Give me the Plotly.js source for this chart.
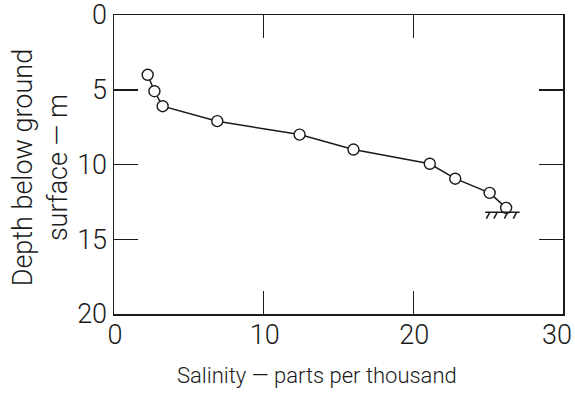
<!DOCTYPE html>
<html>
<head>
<meta charset="utf-8">
<script src="https://cdn.plot.ly/plotly-3.0.1.min.js"></script>
<style>html,body{margin:0;padding:0;background:#fff;}#chart{width:575px;height:408px;}</style>
</head>
<body>
<div id="chart"></div>
<script>
// Salinity (parts per thousand) vs depth below ground surface (m)
var salinity = [2.25, 2.7, 3.25, 6.9, 12.4, 16.0, 21.1, 22.8, 25.1, 26.2];
var depth    = [4.0, 5.1, 6.1, 7.1, 8.0, 9.0, 9.95, 10.95, 11.9, 12.9];

// ground-surface (hatched) symbol under the last sample
var groundX = [24.8, 27.1];
var groundDepth = 13.2;
var hatchX = [25.1, 25.6, 26.3, 26.9];
var hatchDx = 0.22, hatchDy = 0.42;

var xTicks = [0, 10, 20, 30];
var xTickLabels = ['0', '10', '20', ''];
var xEdgeTick = [30];
var xEdgeLabel = ['30'];
var yTicks = [0, 5, 10, 15, 20];
var yTickLabels = ['0', '5', '10', '15', '20'];

var hx = [groundX[0], groundX[1], null], hy = [groundDepth, groundDepth, null];
hatchX.forEach(function (x) {
  hx.push(x, x - hatchDx, null);
  hy.push(groundDepth, groundDepth + hatchDy, null);
});

var FONT = 'Roboto, Lato, sans-serif';
var INK = '#1a1a1a';

var traces = [
  { x: hx, y: hy, xaxis: 'x2', yaxis: 'y', mode: 'lines', line: {color: INK, width: 1.5}, hoverinfo: 'skip', showlegend: false },
  { x: salinity, y: depth, mode: 'lines', line: {color: INK, width: 1.5}, showlegend: false },
  { x: salinity, y: depth, mode: 'markers', showlegend: false,
    marker: {symbol: 'circle', size: 11, color: '#ffffff', line: {color: INK, width: 1.4}} }
];

var tf = {size: 27, family: FONT, color: INK, weight: 300};

var layout = {
  width: 575, height: 408,
  margin: {l: 114, r: 12, t: 15, b: 94},
  paper_bgcolor: '#ffffff', plot_bgcolor: '#ffffff',
  font: {family: FONT, color: INK},
  xaxis: {
    range: [0, 30], tickvals: xTicks, ticktext: xTickLabels,
    ticks: 'inside', ticklen: 23, tickwidth: 1.5, tickcolor: INK,
    showline: true, linecolor: INK, linewidth: 1.5, mirror: 'ticks',
    showgrid: false, zeroline: false, ticklabeloverflow: 'allow',
    tickfont: tf, ticklabelstandoff: -4, ticklabelshift: 1
  },
  xaxis2: {
    overlaying: 'x', anchor: 'y', side: 'bottom', range: [0, 30],
    tickvals: xEdgeTick, ticktext: xEdgeLabel, ticks: '',
    showline: false, showgrid: false, zeroline: false, ticklabeloverflow: 'allow',
    tickfont: tf, ticklabelstandoff: 2, ticklabelshift: -6
  },
  yaxis: {
    range: [20, 0], tickvals: yTicks, ticktext: yTickLabels,
    ticks: 'inside', ticklen: 24, tickwidth: 1.5, tickcolor: INK,
    showline: true, linecolor: INK, linewidth: 1.5, mirror: 'ticks',
    showgrid: false, zeroline: false, ticklabeloverflow: 'allow',
    tickfont: tf, ticklabelstandoff: 0
  },
  annotations: [
    { text: 'Salinity \u2014 parts per thousand', xref: 'paper', yref: 'paper',
      x: 0.452, y: -0.205, xanchor: 'center', yanchor: 'middle', showarrow: false,
      font: {size: 22, family: FONT, color: INK, weight: 300} },
    { text: 'Depth below ground<br>surface \u2014 m', xref: 'paper', yref: 'paper',
      x: -0.163, y: 0.49, xanchor: 'center', yanchor: 'middle', showarrow: false, textangle: -90,
      font: {size: 27, family: FONT, color: INK, weight: 300} }
  ]
};

Plotly.newPlot('chart', traces, layout, {displayModeBar: false, staticPlot: true});
</script>
</body>
</html>
